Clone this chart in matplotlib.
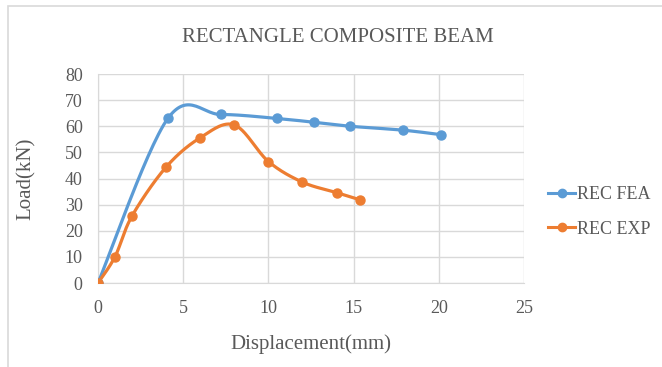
import numpy as np
import matplotlib
matplotlib.use("Agg")
import matplotlib.pyplot as plt
from matplotlib.patches import Rectangle

# data
fea_x = [0, 4.1, 7.2, 10.5, 12.7, 14.8, 17.9, 20.1]
fea_y = [0, 63.0, 64.5, 63.0, 61.5, 60.0, 58.5, 56.8]
exp_x = [0, 1.0, 2.0, 4.0, 6.0, 8.0, 10.0, 12.0, 14.0, 15.4]
exp_y = [0, 10.1, 25.7, 44.4, 55.6, 60.5, 46.5, 38.6, 34.6, 31.8]
x_ticks = [0, 5, 10, 15, 20, 25]
y_ticks = [0, 10, 20, 30, 40, 50, 60, 70, 80]

BLUE = "#5B9BD5"
ORANGE = "#ED7D31"
GREY = "#595959"
GRID = "#D9D9D9"

plt.rcParams["font.family"] = ["Liberation Serif", "DejaVu Serif"]


def smooth(xs, ys, n=30):
    # excel-like smoothed line: cubic bezier with catmull-rom control points
    p = np.column_stack([xs, ys]).astype(float)
    ext = np.vstack([p[0], p, p[-1]])
    out = []
    t = np.linspace(0, 1, n)[:, None]
    for i in range(1, len(ext) - 2):
        p0, p1, p2, p3 = ext[i - 1], ext[i], ext[i + 1], ext[i + 2]
        c1 = p1 + (p2 - p0) / 6
        c2 = p2 - (p3 - p1) / 6
        seg = ((1 - t) ** 3) * p1 + 3 * ((1 - t) ** 2) * t * c1 \
            + 3 * (1 - t) * t ** 2 * c2 + t ** 3 * p2
        out.append(seg)
    s = np.vstack(out)
    return s[:, 0], s[:, 1]


W, H = 662, 367
fig = plt.figure(figsize=(W / 100, H / 100), dpi=100)

# chart border (top and left edges visible)
fig.add_artist(Rectangle((8 / W, -0.05), 1.2, 1 - 6 / H + 0.05,
                         transform=fig.transFigure, fill=False,
                         edgecolor="#D9D9D9", lw=1.2))

ax = fig.add_axes([98 / W, (H - 283) / H, (524 - 98) / W, (283 - 74) / H])

for xs, ys, c, lab in [(fea_x, fea_y, BLUE, "REC FEA"), (exp_x, exp_y, ORANGE, "REC EXP")]:
    sx, sy = smooth(xs, ys)
    ax.plot(sx, sy, color=c, lw=2.3, solid_capstyle="round", zorder=3)
    ax.plot(xs, ys, "o", color=c, ms=6.5, zorder=4)
    ax.plot([], [], color=c, lw=2.2, marker="o", ms=6, label=lab)

ax.set_xlim(0, 25)
ax.set_ylim(0, 80)
ax.set_xticks(x_ticks)
ax.set_yticks(y_ticks)
ax.grid(True, color=GRID, lw=1)
ax.set_axisbelow(True)
for side in ["top", "right"]:
    ax.spines[side].set_visible(False)
for side in ["left", "bottom"]:
    ax.spines[side].set_color(GRID)
ax.tick_params(length=0, labelsize=13, labelcolor=GREY)
ax.tick_params(axis="x", pad=12.5)
ax.tick_params(axis="y", pad=11)

ax.set_xlabel("Displacement(mm)", fontsize=15, color=GREY, labelpad=12)
ax.set_ylabel("Load(kN)", fontsize=15, color=GREY, labelpad=21)

fig.text(338 / W, 1 - 37 / H, "RECTANGLE COMPOSITE BEAM", ha="center", va="center",
         fontsize=15, color=GREY)

ax.legend(loc="center left", bbox_to_anchor=(532 / W, 1 - 212 / H),
          bbox_transform=fig.transFigure, frameon=False, fontsize=13,
          labelcolor=GREY, handlelength=1.5, handletextpad=0.1, labelspacing=0.95)

fig.savefig("out.png", dpi=100)
